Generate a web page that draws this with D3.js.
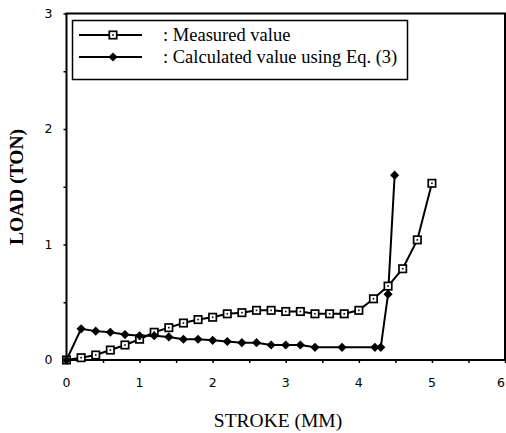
<!DOCTYPE html>
<html lang="en">
<head>
<meta charset="UTF-8">
<title>Load vs stroke</title>
<script src="https://d3js.org/d3.v7.min.js"></script>
<style>
  body { margin: 0; background: #fff; }
  svg { display: block; }
  .tick-label { font-family: "DejaVu Sans", sans-serif; font-size: 12.5px; }
</style>
</head>
<body>
<div id="chart"></div>
<script>
// Measured value (open squares)
const measuredX = [0, 0.2, 0.4, 0.6, 0.8, 1.0, 1.2, 1.4, 1.6, 1.8, 2.0, 2.2, 2.4, 2.6, 2.8, 3.0, 3.2, 3.4, 3.6, 3.8, 4.0, 4.2, 4.4, 4.6, 4.8, 5.0];
const measuredY = [0, 0.02, 0.043, 0.086, 0.13, 0.18, 0.24, 0.28, 0.32, 0.35, 0.37, 0.40, 0.41, 0.43, 0.43, 0.42, 0.42, 0.40, 0.40, 0.40, 0.43, 0.53, 0.64, 0.79, 1.04, 1.53];

// Calculated value using Eq. (3) (filled diamonds)
const calcX = [0, 0.2, 0.4, 0.6, 0.8, 1.0, 1.2, 1.4, 1.6, 1.8, 2.0, 2.2, 2.4, 2.6, 2.8, 3.0, 3.2, 3.4, 3.77, 4.22, 4.3, 4.4, 4.49];
const calcY = [0, 0.27, 0.25, 0.24, 0.22, 0.21, 0.21, 0.20, 0.18, 0.18, 0.17, 0.16, 0.15, 0.15, 0.13, 0.13, 0.13, 0.11, 0.11, 0.11, 0.11, 0.57, 1.6];

const xTicks = [0, 1, 2, 3, 4, 5, 6];
const yTicks = [0, 1, 2, 3];
const legendLabels = [": Measured value", ": Calculated value using Eq. (3)"];

const width = 506, height = 433;
const plotL = 66.5, plotR = 505, plotT = 13.5, plotB = 360;

const svg = d3.select("#chart").append("svg")
    .attr("width", width)
    .attr("height", height);

const x = d3.scaleLinear().domain([0, 6]).range([plotL, plotR]);
const y = d3.scaleLinear().domain([0, 3]).range([plotB, plotT]);

// frame
svg.append("rect")
    .attr("x", plotL).attr("y", plotT)
    .attr("width", plotR - plotL).attr("height", plotB - plotT)
    .attr("fill", "none").attr("stroke", "#000").attr("stroke-width", 2);

// x axis with minor ticks every 0.5
const xAxis = svg.append("g")
    .attr("transform", `translate(0,${plotB})`)
    .call(d3.axisBottom(x).tickValues(d3.range(0, 6.01, 0.5)).tickSize(3).tickFormat(""));
xAxis.select(".domain").remove();
xAxis.selectAll("line").attr("stroke-width", 1.5);

svg.append("g").selectAll("text")
    .data(xTicks)
    .enter().append("text")
    .attr("class", "tick-label")
    .attr("x", d => Math.min(x(d), 501))
    .attr("y", plotB + 27)
    .attr("text-anchor", "middle")
    .text(d => d);

// y axis with minor ticks every 0.5
const yAxis = svg.append("g")
    .attr("transform", `translate(${plotL},0)`)
    .call(d3.axisLeft(y).tickValues(d3.range(0, 3.01, 0.5)).tickSize(3).tickFormat(""));
yAxis.select(".domain").remove();
yAxis.selectAll("line").attr("stroke-width", 1.5);

svg.append("g").selectAll("text")
    .data(yTicks)
    .enter().append("text")
    .attr("class", "tick-label")
    .attr("x", plotL - 18)
    .attr("y", d => y(d) + 4)
    .attr("text-anchor", "middle")
    .text(d => d);

// axis titles
svg.append("text")
    .attr("x", 278)
    .attr("y", 427)
    .attr("text-anchor", "middle")
    .attr("font-family", "Liberation Serif, serif")
    .attr("font-size", 19.5)
    .text("STROKE (MM)");

svg.append("text")
    .attr("transform", `translate(23,187) rotate(-90)`)
    .attr("text-anchor", "middle")
    .attr("font-family", "Liberation Serif, serif")
    .attr("font-weight", "bold")
    .attr("font-size", 19.5)
    .text("LOAD (TON)");

const line = d3.line().x(d => x(d[0])).y(d => y(d[1]));

const measured = measuredX.map((v, i) => [v, measuredY[i]]);
const calc = calcX.map((v, i) => [v, calcY[i]]);

svg.append("path").datum(calc)
    .attr("d", line).attr("fill", "none").attr("stroke", "#000").attr("stroke-width", 2);
svg.append("path").datum(measured)
    .attr("d", line).attr("fill", "none").attr("stroke", "#000").attr("stroke-width", 2);

// squat diamond: a square turned by 45 degrees
const diamond = d3.symbol().type(d3.symbolSquare).size(42);

function drawSquare(g, px, py) {
  g.append("rect")
      .attr("x", px - 3.7).attr("y", py - 3.7)
      .attr("width", 7.4).attr("height", 7.4)
      .attr("fill", "#fff").attr("stroke", "#000").attr("stroke-width", 1.7);
  g.append("rect")
      .attr("x", px - 0.8).attr("y", py - 0.8)
      .attr("width", 1.6).attr("height", 1.6)
      .attr("fill", "#000");
}

function drawDiamond(g, px, py) {
  g.append("path")
      .attr("d", diamond)
      .attr("transform", `translate(${px},${py}) rotate(45)`)
      .attr("fill", "#000");
}

const sq = svg.append("g");
measured.forEach(d => drawSquare(sq, x(d[0]), y(d[1])));

const dm = svg.append("g");
calc.forEach(d => drawDiamond(dm, x(d[0]), y(d[1])));

// legend
const lg = svg.append("g");
lg.append("rect")
    .attr("x", 72.5).attr("y", 20.5)
    .attr("width", 335).attr("height", 59)
    .attr("fill", "#fff").attr("stroke", "#000").attr("stroke-width", 1.5);

[35, 57].forEach((ly, i) => {
  lg.append("line")
      .attr("x1", 79).attr("x2", 142).attr("y1", ly).attr("y2", ly)
      .attr("stroke", "#000").attr("stroke-width", 2);
  if (i === 0) drawSquare(lg, 113, ly);
  else drawDiamond(lg, 113, ly);
  lg.append("text")
      .attr("x", 163).attr("y", ly + 6)
      .attr("font-family", "Liberation Serif, serif")
      .attr("font-size", 18.5)
      .text(legendLabels[i]);
});
</script>
</body>
</html>
